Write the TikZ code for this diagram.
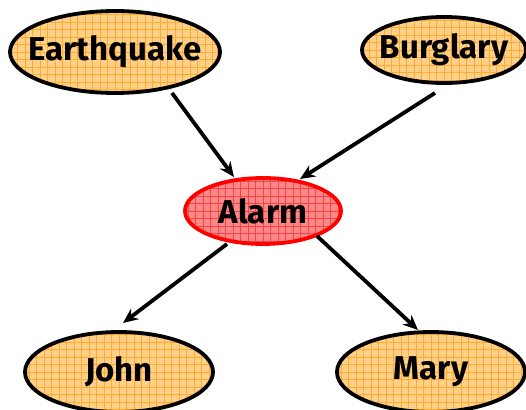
\documentclass[tikz,border=0pt]{standalone}
\usepackage{fontspec}
\setmainfont{Fira Sans}
\usetikzlibrary{shapes.geometric,calc,arrows.meta}
\definecolor{orfill}{RGB}{255,208,135}
\definecolor{orgrid}{RGB}{255,170,50}
\definecolor{rdfill}{RGB}{255,135,135}
\definecolor{rdgrid}{RGB}{240,70,70}
\definecolor{rdline}{RGB}{255,0,0}
\tikzset{
  ell/.style 2 args={ellipse, draw=#2, line width=3.8pt, inner sep=0pt,
    path picture={
      \fill[#1fill] (path picture bounding box.south west) rectangle (path picture bounding box.north east);
      \draw[#1grid, line width=0.55pt, step=7.5pt] (path picture bounding box.south west) grid (path picture bounding box.north east);
    }},
  lbl/.style={font=\fontsize{33}{38}\selectfont\bfseries, text=black, inner sep=0pt},
  arr/.style={line width=3.8pt, -{Stealth[length=15pt,width=13pt]}}
}
\begin{document}
\begin{tikzpicture}[x=1pt,y=1pt]
\useasboundingbox (0,0) rectangle (526,409);
\node[ell={or}{black}, minimum width=210pt, minimum height=82pt] (eq) at (115,357) {};
\node[lbl] (eqt) at (eq) {Earthquake};
\node[ell={or}{black}, minimum width=164pt, minimum height=66pt] (bu) at (444,359) {};
\node[lbl] (but) at (bu) {Burglary};
\node[ell={rd}{rdline}, minimum width=156pt, minimum height=66pt] (al) at (263,198) {};
\node[lbl] (alt) at (al) {Alarm};
\node[ell={or}{black}, minimum width=188pt, minimum height=80pt] (jo) at (119,37) {};
\node[lbl] (jot) at (jo) {John};
\node[ell={or}{black}, minimum width=188pt, minimum height=80pt] (ma) at (431,37) {};
\node[lbl] (mat) at (ma) {Mary};
\draw[arr] ($(eq)+(57,-41)$) -- ($(al)+(-29,34)$);
\draw[arr] ($(bu)+(-9,-43)$) -- ($(al)+(37,32)$);
\draw[arr] ($(al)+(-36,-33)$) -- ($(jo)+(4,49)$);
\draw[arr] ($(al)+(54,-25)$) -- ($(ma)+(-13,42)$);
\end{tikzpicture}
\end{document}
